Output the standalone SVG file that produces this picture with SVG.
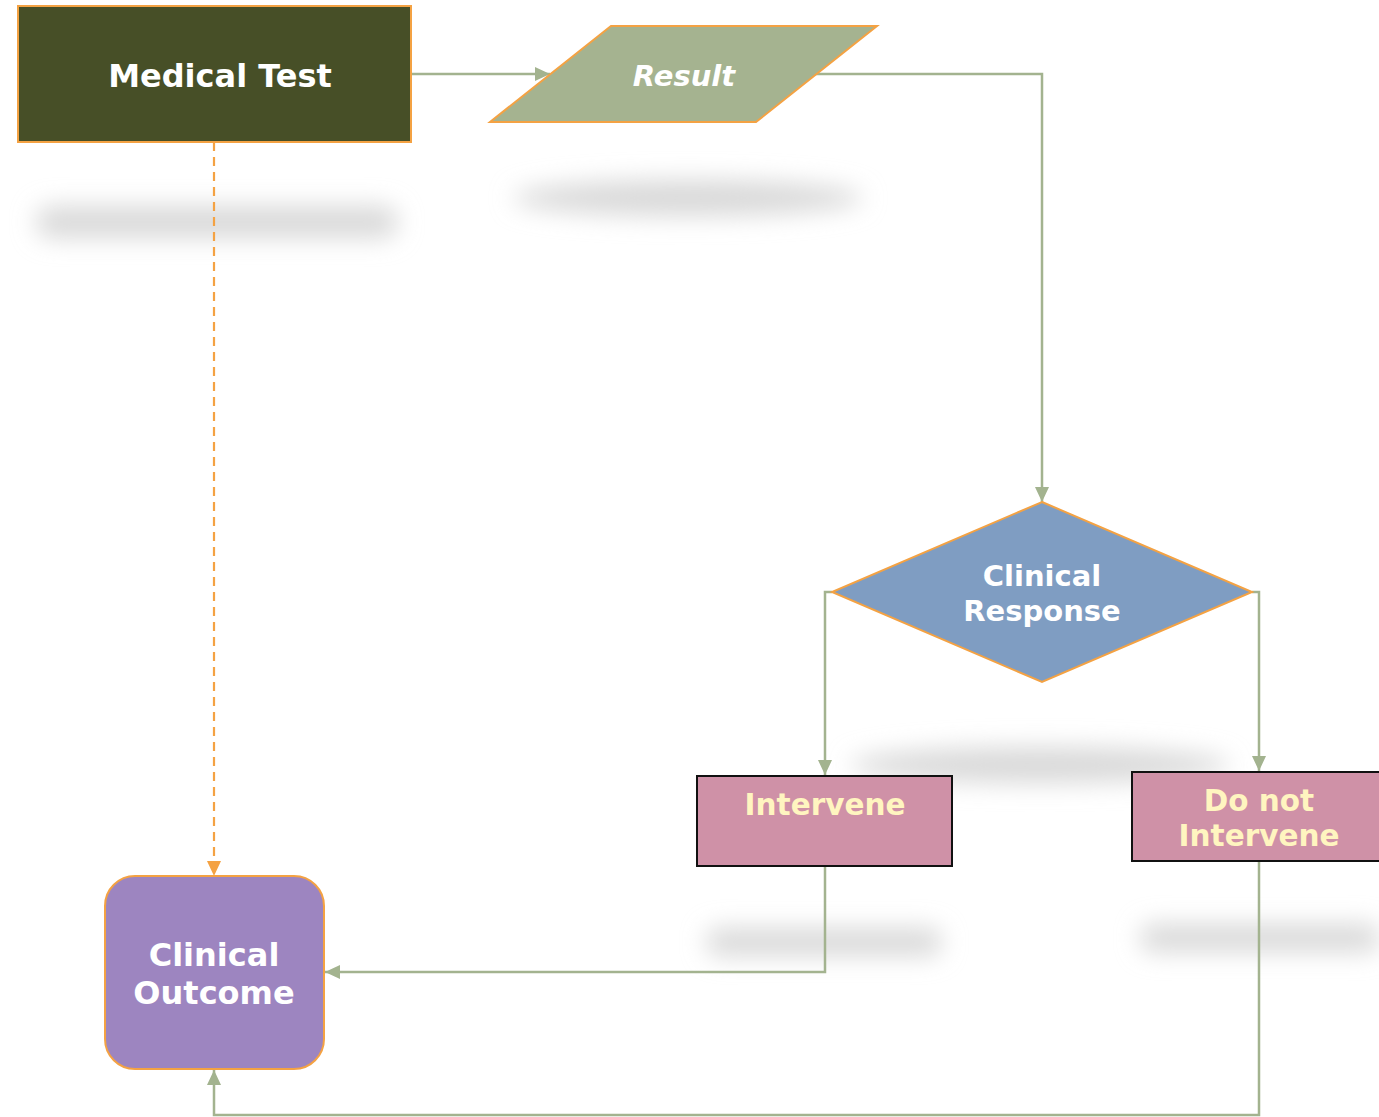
<svg xmlns="http://www.w3.org/2000/svg" width="1379" height="1117" viewBox="0 0 1379 1117">
  <style>
    .lbl { font-family: "DejaVu Sans", Verdana, sans-serif; font-weight: bold; text-anchor: middle; }
    .white { fill: #ffffff; }
    .cream { fill: #fff5c0; }
    .conn { fill: none; stroke: #a3b38f; stroke-width: 2.5; }
    .dash { fill: none; stroke: #f4a243; stroke-width: 2.2; stroke-dasharray: 9 6; }
    .shadow { fill: #d9d9d9; }
  </style>
  <defs>
    <filter id="soft" x="-20%" y="-40%" width="140%" height="180%">
      <feGaussianBlur stdDeviation="12"/>
    </filter>
    <marker id="arrowGreen" viewBox="0 0 15 14" refX="15" refY="7" markerWidth="15" markerHeight="14" markerUnits="userSpaceOnUse" orient="auto">
      <path d="M0,0 L15,7 L0,14 Z" fill="#a3b38f"/>
    </marker>
    <marker id="arrowOrange" viewBox="0 0 15 14" refX="15" refY="7" markerWidth="15" markerHeight="14" markerUnits="userSpaceOnUse" orient="auto">
      <path d="M0,0 L15,7 L0,14 Z" fill="#f4a243"/>
    </marker>
  </defs>

  <rect width="1379" height="1117" fill="#ffffff"/>

  <!-- soft drop shadows beneath the nodes -->
  <g id="shadows" filter="url(#soft)">
    <rect class="shadow" x="36" y="206" width="362" height="32" rx="16"/>
    <ellipse class="shadow" cx="688" cy="198" rx="175" ry="18"/>
    <ellipse class="shadow" cx="1040" cy="765" rx="190" ry="18"/>
    <rect class="shadow" x="706" y="928" width="236" height="28" rx="14"/>
    <rect class="shadow" x="1140" y="924" width="240" height="28" rx="14"/>
  </g>

  <!-- connectors -->
  <g id="connectors">
    <path class="conn" d="M411,74 L550,74" marker-end="url(#arrowGreen)"/>
    <path class="conn" d="M816,74 L1042,74 L1042,502" marker-end="url(#arrowGreen)"/>
    <path class="conn" d="M832,592 L825,592 L825,775" marker-end="url(#arrowGreen)"/>
    <path class="conn" d="M1252,592 L1259,592 L1259,771" marker-end="url(#arrowGreen)"/>
    <path class="conn" d="M825,866 L825,972 L325,972" marker-end="url(#arrowGreen)"/>
    <path class="conn" d="M1259,861 L1259,1115 L214,1115 L214,1070" marker-end="url(#arrowGreen)"/>
    <path class="dash" d="M214,142 L214,876" marker-end="url(#arrowOrange)"/>
  </g>

  <g id="medical-test">
    <rect x="18" y="6" width="393" height="136" fill="#474f27" stroke="#f4a243" stroke-width="2"/>
    <text class="lbl white" x="220" y="87" font-size="32">Medical Test</text>
  </g>

  <g id="result">
    <polygon points="611,26 877,26 756,122 490,122" fill="#a5b390" stroke="#f4a243" stroke-width="2"/>
    <text class="lbl white" x="684" y="86" font-size="29" font-style="italic">Result</text>
  </g>

  <g id="clinical-response">
    <polygon points="1042,502 1252,592 1042,682 832,592" fill="#7f9dc2" stroke="#f4a243" stroke-width="2"/>
    <text class="lbl white" x="1042" y="586" font-size="29">Clinical</text>
    <text class="lbl white" x="1042" y="621" font-size="29">Response</text>
  </g>

  <g id="intervene">
    <rect x="697" y="776" width="255" height="90" fill="#cf91a7" stroke="#111111" stroke-width="2"/>
    <text class="lbl cream" x="825" y="815" font-size="29.5">Intervene</text>
  </g>

  <g id="do-not-intervene">
    <rect x="1132" y="772" width="260" height="89" fill="#cf91a7" stroke="#111111" stroke-width="2"/>
    <text class="lbl cream" x="1259" y="811" font-size="29.5">Do not</text>
    <text class="lbl cream" x="1259" y="846" font-size="29.5">Intervene</text>
  </g>

  <g id="clinical-outcome">
    <rect x="105" y="876" width="219" height="193" rx="30" fill="#9d85c0" stroke="#f4a243" stroke-width="2"/>
    <text class="lbl white" x="214" y="966" font-size="32">Clinical</text>
    <text class="lbl white" x="214" y="1004" font-size="32">Outcome</text>
  </g>
</svg>
